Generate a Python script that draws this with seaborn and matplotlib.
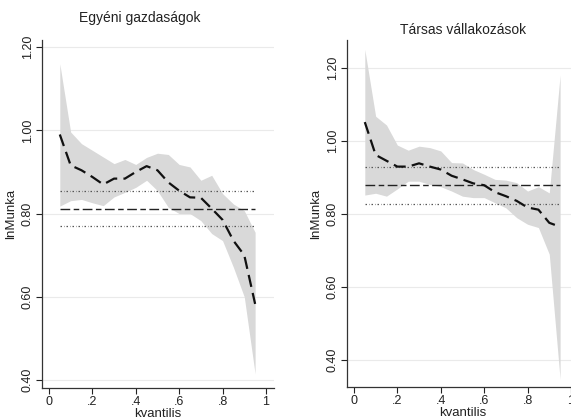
import numpy as np
import pandas as pd
import matplotlib
matplotlib.use("Agg")
import matplotlib.pyplot as plt
import seaborn as sns

# quantiles
kvantilis = [0.05, 0.10, 0.15, 0.20, 0.25, 0.30, 0.35, 0.40, 0.45, 0.50,
             0.55, 0.60, 0.65, 0.70, 0.75, 0.80, 0.85, 0.90, 0.95]

# Egyéni gazdaságok
egyeni_coef = [0.990, 0.916, 0.904, 0.888, 0.870, 0.884, 0.884, 0.900, 0.914, 0.904,
               0.875, 0.855, 0.839, 0.838, 0.812, 0.785, 0.735, 0.700, 0.583]
egyeni_hi = [1.160, 0.996, 0.968, 0.952, 0.936, 0.920, 0.930, 0.918, 0.935, 0.945,
             0.942, 0.918, 0.912, 0.880, 0.892, 0.848, 0.823, 0.807, 0.755]
egyeni_lo = [0.818, 0.831, 0.834, 0.826, 0.819, 0.840, 0.851, 0.863, 0.880, 0.855,
             0.815, 0.800, 0.800, 0.783, 0.752, 0.735, 0.671, 0.600, 0.415]
egyeni_ols = 0.811
egyeni_ols_hi = 0.854
egyeni_ols_lo = 0.769

# Társas vállakozások
tarsas_coef = [1.052, 0.962, 0.946, 0.930, 0.930, 0.939, 0.930, 0.922, 0.905, 0.895,
               0.884, 0.879, 0.860, 0.849, 0.836, 0.818, 0.812, 0.776, 0.765]
tarsas_hi = [1.251, 1.068, 1.044, 0.989, 0.975, 0.986, 0.982, 0.973, 0.941, 0.940,
             0.922, 0.909, 0.895, 0.893, 0.886, 0.863, 0.875, 0.858, 1.181]
tarsas_lo = [0.852, 0.857, 0.849, 0.869, 0.890, 0.890, 0.881, 0.875, 0.863, 0.849,
             0.845, 0.845, 0.831, 0.817, 0.790, 0.772, 0.763, 0.690, 0.347]
tarsas_ols = 0.879
tarsas_ols_hi = 0.930
tarsas_ols_lo = 0.827

yticks = [0.40, 0.60, 0.80, 1.00, 1.20]
xticks = [0, 0.2, 0.4, 0.6, 0.8, 1]
xticklabels = ["0", ".2", ".4", ".6", ".8", "1"]

sns.set_theme(style="white")
plt.rcParams["font.family"] = ["Liberation Sans", "DejaVu Sans"]


def panel(ax, coef, hi, lo, ols, ols_hi, ols_lo, ylim):
    df = pd.DataFrame({"kvantilis": kvantilis, "coef": coef, "hi": hi, "lo": lo})
    ax.fill_between(df["kvantilis"], df["lo"], df["hi"], color="#d9d9d9", lw=0, zorder=1)
    for y in yticks:
        ax.axhline(y, color="#eaeaea", lw=0.8, zorder=0)
    x0, x1 = kvantilis[0], kvantilis[-1]
    ax.plot([x0, x1], [ols_hi, ols_hi], color="#555555", lw=0.9,
            dashes=(1.2, 1.6, 0.4, 1.6), zorder=2)
    ax.plot([x0, x1], [ols, ols], color="#222222", lw=1.0,
            dashes=(7, 2.5, 4, 2.5), zorder=2)
    ax.plot([x0, x1], [ols_lo, ols_lo], color="#555555", lw=0.9,
            dashes=(1.2, 1.6, 0.4, 1.6), zorder=2)
    sns.lineplot(data=df, x="kvantilis", y="coef", ax=ax, color="#111111",
                 lw=1.6, dashes=False, zorder=3)
    ax.lines[-1].set_dashes((5.5, 2.8))
    ax.set_xlim(-0.032, 1.037)
    ax.set_ylim(*ylim)
    ax.set_yticks(yticks)
    ax.set_yticklabels([f"{v:.2f}" for v in yticks], rotation=90, va="center")
    ax.set_xticks(xticks)
    ax.set_xticklabels(xticklabels)
    ax.tick_params(axis="both", labelsize=9, length=4, width=0.8,
                   direction="out", pad=2, colors="#222222")
    ax.tick_params(axis="both", left=True, bottom=True)
    ax.set_xlabel("kvantilis", fontsize=9.5, labelpad=0, color="#222222")
    ax.set_ylabel("lnMunka", fontsize=9.5, labelpad=3, color="#222222")
    for s in ["top", "right"]:
        ax.spines[s].set_visible(False)
    for s in ["left", "bottom"]:
        ax.spines[s].set_color("#333333")
        ax.spines[s].set_linewidth(0.9)


fig = plt.figure(figsize=(5.71, 4.2), dpi=100)
ax1 = fig.add_axes([42 / 571, 32 / 420, 232 / 571, 348 / 420])
ax2 = fig.add_axes([347 / 571, 33 / 420, 232 / 571, 347 / 420])

panel(ax1, egyeni_coef, egyeni_hi, egyeni_lo, egyeni_ols, egyeni_ols_hi,
      egyeni_ols_lo, (0.381, 1.217))
panel(ax2, tarsas_coef, tarsas_hi, tarsas_lo, tarsas_ols, tarsas_ols_hi,
      tarsas_ols_lo, (0.326, 1.277))

fig.text(140 / 571, 1 - 18 / 420, "Egyéni gazdaságok", ha="center", va="center",
         fontsize=10, color="#222222")
fig.text(463 / 571, 1 - 30 / 420, "Társas vállakozások", ha="center", va="center",
         fontsize=10, color="#222222")

fig.savefig("out.png", dpi=100)
